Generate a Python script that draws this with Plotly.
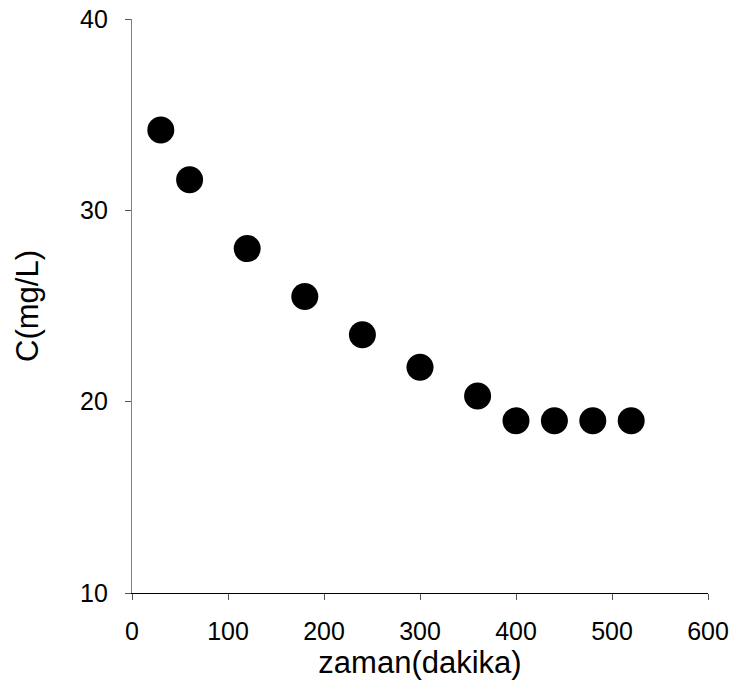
import plotly.graph_objects as go

time_min = [30, 60, 120, 180, 240, 300, 360, 400, 440, 480, 520]
conc_mgL = [34.2, 31.6, 28.0, 25.5, 23.5, 21.8, 20.3, 19.0, 19.0, 19.0, 19.0]
x_ticks = [0, 100, 200, 300, 400, 500, 600]
y_ticks = [10, 20, 30, 40]

fig = go.Figure(go.Scatter(
    x=time_min, y=conc_mgL, mode="markers",
    marker=dict(size=27, color="black", line=dict(width=0)),
    showlegend=False, cliponaxis=False,
))

fig.update_layout(
    width=735, height=686,
    margin=dict(l=132, r=27, t=19, b=93, autoexpand=False),
    plot_bgcolor="white", paper_bgcolor="white",
    font=dict(family="Liberation Sans, Arial, sans-serif", size=25, color="black"),
)
fig.update_xaxes(
    range=[0, 600], tickvals=x_ticks, showgrid=False, zeroline=False,
    showline=True, linecolor="black", linewidth=1.2,
    ticks="outside", ticklen=6, tickcolor="#555555",
    ticklabelstandoff=10, automargin=False, ticklabeloverflow="allow",
    title=dict(text="zaman(dakika)", font=dict(size=31), standoff=4),
)
fig.update_yaxes(
    range=[10, 40], tickvals=y_ticks, showgrid=False, zeroline=False,
    showline=True, linecolor="#808080", linewidth=1.2,
    ticks="outside", ticklen=6, tickcolor="#555555",
    ticklabelstandoff=12, automargin=False, ticklabeloverflow="allow",
    title=dict(text="C(mg/L)", font=dict(size=31), standoff=32),
)

fig.write_html(
    "out.html",
    config={"displayModeBar": False},
    post_script="document.body.style.margin='0';document.body.style.overflow='hidden';",
)
